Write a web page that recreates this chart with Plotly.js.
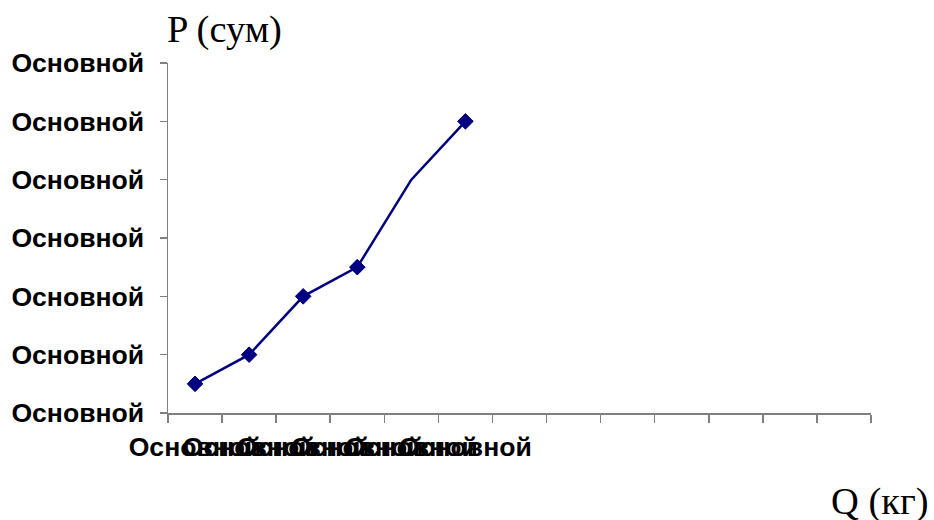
<!DOCTYPE html>
<html>
<head>
<meta charset="utf-8">
<script src="https://cdn.plot.ly/plotly-3.0.1.min.js"></script>
<style>
html,body{margin:0;padding:0;background:#fff;}
#chart{width:934px;height:520px;}
</style>
</head>
<body>
<div id="chart"></div>
<script>
// Categories (Q) — 13 slots on the category axis; labels as shown in the source
const categories = ["q1","q2","q3","q4","q5","q6","q7","q8","q9","q10","q11","q12","q13"];
const xTickLabels = ["Основной","Основной","Основной","Основной","Основной","Основной","","","","","","",""];
// Series (P) values for the first six categories
const seriesCats = ["q1","q2","q3","q4","q5","q6"];
const seriesValues = [0.5, 1, 2, 2.5, 4, 5];
const markerSizes = [12, 12, 12, 12, 0, 12];
// Y tick values and labels
const yTickVals = [0, 1, 2, 3, 4, 5, 6];
const yTickLabels = ["Основной","Основной","Основной","Основной","Основной","Основной","Основной"];

const labelFont = {family: "Liberation Sans, Arial, sans-serif", size: 26.6, color: "#000", weight: "bold"};
const titleFont = {family: "Liberation Serif, Times New Roman, serif", size: 38.5, color: "#000"};

const trace = {
  x: seriesCats,
  y: seriesValues,
  type: "scatter",
  mode: "lines+markers",
  line: {color: "#000080", width: 2.5},
  marker: {symbol: "diamond", color: "#000080", opacity: 1, size: markerSizes, line: {color: "#000080", width: 1}},
  hoverinfo: "skip",
  showlegend: false
};

const layout = {
  width: 934,
  height: 520,
  margin: {l: 168, r: 63, t: 63, b: 107},
  paper_bgcolor: "#fff",
  plot_bgcolor: "#fff",
  xaxis: {
    type: "category",
    categoryorder: "array",
    categoryarray: categories,
    range: [-0.5, 12.5],
    tickmode: "array",
    tickvals: categories,
    ticktext: xTickLabels,
    tickson: "boundaries",
    ticks: "outside",
    ticklen: 8,
    tickwidth: 1.5,
    tickcolor: "#808080",
    showline: true,
    linecolor: "#808080",
    linewidth: 1.5,
    showgrid: false,
    zeroline: false,
    tickangle: 0,
    ticklabelstandoff: 10,
    tickfont: labelFont
  },
  yaxis: {
    range: [0, 6],
    tickmode: "array",
    tickvals: yTickVals,
    ticktext: yTickLabels,
    ticks: "outside",
    ticklen: 7,
    tickwidth: 1.5,
    tickcolor: "#808080",
    showline: true,
    linecolor: "#808080",
    linewidth: 1.5,
    showgrid: false,
    zeroline: false,
    ticklabelstandoff: 10,
    tickfont: labelFont
  },
  annotations: [
    {text: "P (сум)", xref: "paper", yref: "paper", x: -0.004, y: 1.095,
     xanchor: "left", yanchor: "middle", showarrow: false, font: titleFont},
    {text: "Q (кг)", xref: "paper", yref: "paper", x: 1.086, y: -0.254,
     xanchor: "right", yanchor: "middle", showarrow: false, font: titleFont}
  ]
};

Plotly.newPlot("chart", [trace], layout, {displayModeBar: false, staticPlot: true});
</script>
</body>
</html>
